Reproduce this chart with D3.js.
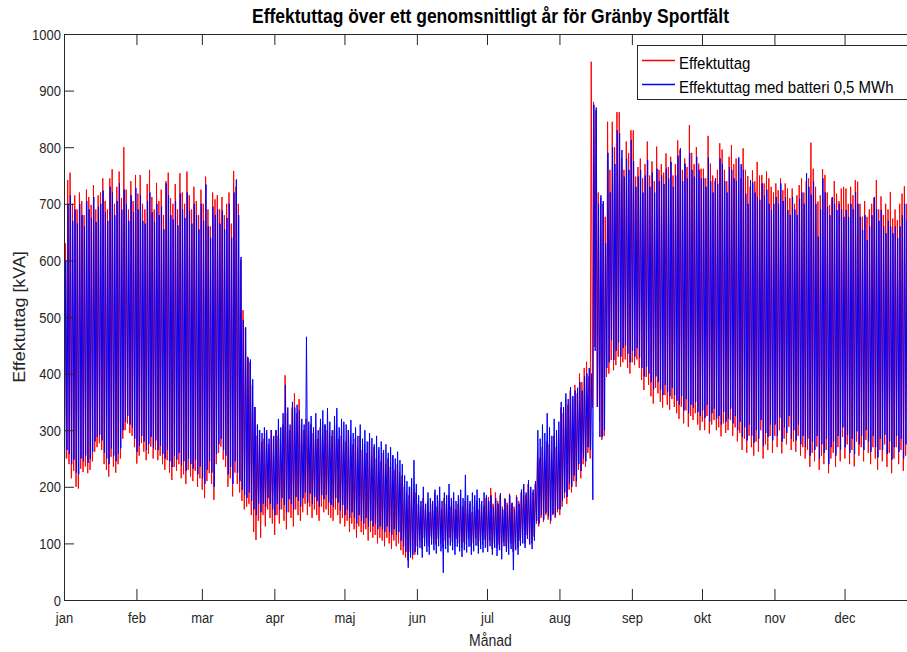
<!DOCTYPE html>
<html lang="sv">
  <head>
    <meta charset="UTF-8" />
    <title>Effektuttag Gränby Sportfält</title>
    <script src="https://d3js.org/d3.v7.min.js"></script>
    <style>
      body {
        margin: 0;
        background: #ffffff;
        font-family: "Liberation Sans", Arial, Helvetica, sans-serif;
      }
      svg {
        display: block;
      }
    </style>
  </head>
  <body>
    <script>
      // month ticks (day of year where each month starts)
      const months = ["jan", "feb", "mar", "apr", "maj", "jun", "jul", "aug", "sep", "okt", "nov", "dec"];
      const monthStart = [0, 31, 59, 90, 120, 151, 181, 212, 243, 273, 304, 334];
      const yTicks = [0, 100, 200, 300, 400, 500, 600, 700, 800, 900, 1000];

      // daily peak / trough in kVA (one value per day)
      const redHigh = [
        630,742,755,700,715,690,720,705,680,725,712,698,733,690,715,720,745,705,690,745,761,700,730,757,710,800,725,690,740,705,751,
        718,751,700,690,735,760,712,690,737,705,725,680,740,755,710,700,735,690,754,720,700,757,715,690,730,705,680,725,
        700,748,690,660,720,708,715,690,712,680,700,720,665,758,730,700,600,512,480,430,420,380,341,290,300,280,285,295,275,300,285,
        300,290,285,310,397,330,300,340,365,330,355,310,300,320,290,310,295,300,285,305,290,310,300,295,290,300,310,285,290,280,
        280,300,290,275,285,270,290,265,275,260,280,255,270,250,265,245,260,240,250,235,255,230,240,225,220,200,190,185,200,175,190,
        170,165,180,160,175,155,170,190,165,175,160,180,170,185,165,175,160,170,180,165,175,160,170,155,165,175,160,170,165,180,
        182,198,170,190,175,185,165,180,172,188,170,165,185,175,190,200,185,205,195,190,205,260,250,270,255,280,275,260,290,270,300,
        340,330,355,345,370,360,380,365,400,385,410,421,395,951,880,865,720,710,700,677,845,760,845,800,862,862,780,760,810,790,830,
        830,748,765,780,745,770,810,750,775,740,801,760,770,755,789,765,783,750,770,812,795,760,780,765,839,790,770,800,771,762,
        762,745,820,771,750,740,760,807,796,760,740,783,804,770,780,778,745,798,760,749,730,759,740,774,750,751,736,757,745,730,720,
        736,724,745,724,736,727,710,727,700,715,733,745,720,740,745,808,762,730,704,715,761,751,720,698,710,740,718,705,727,730,
        727,700,730,715,742,739,700,677,705,677,690,700,710,742,690,713,680,700,690,721,674,690,671,700,718,731,700,690,710,680,700
      ];
      const redLow = [
        230,250,240,215,228,200,197,232,226,236,224,230,245,262,270,277,265,240,230,218,253,235,225,240,250,285,300,312,295,290,270,
        241,255,277,262,247,258,271,250,265,247,255,240,230,247,225,212,235,228,240,215,222,205,230,218,210,228,200,215,
        195,180,210,224,205,177,240,260,271,248,235,200,215,183,225,205,190,175,160,165,170,150,120,106,140,110,150,130,160,145,135,
        115,150,135,160,140,125,155,145,130,160,150,140,155,170,150,165,145,160,150,140,165,155,160,150,145,140,160,150,135,145,
        130,140,120,135,125,110,130,120,115,125,105,120,110,115,100,110,105,95,110,100,90,105,95,100,88,80,75,70,85,72,80,
        95,105,90,110,100,95,112,100,98,108,100,92,105,98,110,102,95,108,100,92,102,98,108,95,100,110,96,104,98,106,
        95,105,90,100,92,98,88,102,95,90,100,85,98,92,105,110,100,115,105,100,112,135,130,145,138,150,142,135,150,145,155,
        150,165,180,170,195,190,210,200,230,215,240,235,260,250,340,447,341,315,283,290,394,400,424,406,415,430,412,420,425,410,400,
        420,415,425,410,389,371,394,380,360,347,375,365,350,340,362,345,336,355,341,330,320,341,312,335,306,325,318,330,310,300,
        315,300,325,294,310,318,300,305,289,312,295,300,318,290,305,280,295,265,285,260,290,270,255,280,262,300,250,275,265,290,260,
        290,270,300,259,285,275,306,265,280,262,290,255,270,250,265,235,260,245,271,230,255,240,265,224,250,260,235,270,245,288,
        250,275,240,265,236,280,255,270,245,283,260,240,270,250,230,265,245,275,235,260,224,250,270,240,265,228,255,245,270,250,260
      ];
      const blueHigh = [
        600,700,715,670,690,665,700,680,660,705,690,675,712,668,695,700,723,685,670,730,720,680,705,736,690,725,700,670,715,685,728,
        690,715,670,665,705,720,685,668,700,680,695,655,736,715,680,672,705,662,718,690,675,720,688,665,700,680,655,700,
        670,734,660,640,695,680,690,665,688,655,675,700,640,720,743,680,606,495,482,428,425,390,341,310,300,295,305,300,285,300,290,
        300,320,305,330,380,340,310,350,340,345,335,320,310,465,315,325,305,330,300,320,335,310,339,315,300,325,339,305,320,315,
        310,300,318,295,305,290,310,285,300,280,295,286,275,290,270,280,265,275,260,270,256,250,262,247,240,220,210,200,215,247,205,
        185,175,200,170,190,180,175,195,185,200,175,190,185,205,180,190,175,185,195,180,221,185,175,190,185,195,180,175,190,185,
        175,185,165,180,170,189,160,178,168,185,172,160,182,170,195,205,190,212,200,195,210,300,285,310,295,330,305,290,320,300,315,
        350,341,365,355,376,360,370,375,385,370,395,400,410,400,875,870,700,715,705,630,790,720,800,770,830,825,795,748,780,760,813,
        775,730,748,760,720,750,777,730,755,720,762,740,750,735,762,745,774,730,750,785,798,740,771,745,790,760,748,783,760,745,
        745,730,782,740,720,745,735,780,770,740,720,765,760,745,740,782,770,760,718,700,742,738,720,712,707,736,715,725,700,689,700,
        712,700,736,705,712,689,680,712,690,680,709,720,700,754,730,716,740,700,642,690,745,720,695,680,712,700,689,700,690,677,
        689,677,700,690,721,700,677,654,680,636,660,680,712,690,670,689,660,648,670,660,648,660,640,660,680,700,670,660,680,650,670
      ];
      const blueLow = [
        250,265,258,240,248,225,222,250,245,255,242,250,262,280,288,292,282,260,250,240,268,255,245,258,268,300,315,325,310,305,285,
        262,272,290,280,265,275,288,268,282,265,272,258,250,265,245,235,255,248,260,238,245,228,250,240,232,248,222,236,
        215,205,230,245,225,200,258,275,285,265,255,222,235,205,245,225,210,195,185,180,190,175,160,150,170,155,170,165,180,170,160,
        150,170,160,180,168,155,178,170,160,182,175,165,180,190,172,188,170,182,175,165,185,178,186,172,168,165,180,172,158,168,
        150,160,145,155,145,135,150,140,135,145,130,140,130,135,125,130,125,120,130,120,115,125,115,120,105,95,85,57,75,80,85,
        80,92,75,95,85,80,98,88,82,95,86,48,90,84,96,88,80,94,86,76,88,84,94,80,86,96,82,90,84,92,
        85,95,80,92,78,88,72,95,85,80,90,53,88,80,96,100,92,108,98,90,105,140,135,150,142,154,148,140,152,148,160,
        160,175,190,182,205,200,220,210,240,228,250,245,270,265,177,440,341,288,288,300,410,420,459,424,440,455,430,445,450,435,420,
        440,430,445,428,410,395,412,400,385,372,395,385,372,362,380,368,360,375,362,352,345,360,335,355,330,345,340,350,332,325,
        335,322,345,315,330,338,320,325,310,332,315,320,338,312,325,300,315,288,305,282,310,290,278,300,285,318,272,295,288,310,282,
        310,290,322,280,305,295,325,285,300,282,310,275,290,270,285,255,280,265,290,250,275,260,285,240,270,280,255,290,265,305,
        270,292,260,285,258,298,275,290,265,300,280,262,290,270,252,285,265,292,258,280,248,270,290,262,285,250,275,265,290,270,280
      ];

      const w = 907;
      const h = 652;
      const margin = { left: 64, top: 34, bottom: 600, right: 917 };
      const axisColor = "#262626";
      const font = '"Liberation Sans", Arial, Helvetica, sans-serif';
      const stretch = 1.12;

      const svg = d3.select("body").append("svg").attr("width", w).attr("height", h);

      const x = d3.scaleLinear().domain([0, 365]).range([margin.left, margin.right]);
      const y = d3.scaleLinear().domain([0, 1000]).range([margin.bottom, margin.top]);

      svg
        .append("clipPath")
        .attr("id", "plot-clip")
        .append("rect")
        .attr("x", margin.left)
        .attr("y", margin.top)
        .attr("width", margin.right - margin.left)
        .attr("height", margin.bottom - margin.top);

      // each day: trough then peak
      const zigzag = (low, high, lowAt, highAt) => {
        const pts = [];
        low.forEach((v, i) => {
          pts.push([i + lowAt, v]);
          pts.push([i + highAt, high[i]]);
        });
        return pts;
      };

      const line = d3
        .line()
        .x((d) => x(d[0]))
        .y((d) => y(d[1]));

      const plot = svg.append("g").attr("clip-path", "url(#plot-clip)");
      plot
        .append("path")
        .datum(zigzag(redLow, redHigh, 0.15, 0.6))
        .attr("d", line)
        .attr("fill", "none")
        .attr("stroke", "#ff0000")
        .attr("stroke-width", 1);
      plot
        .append("path")
        .datum(zigzag(blueLow, blueHigh, 0.3, 0.75))
        .attr("d", line)
        .attr("fill", "none")
        .attr("stroke", "#0000ff")
        .attr("stroke-width", 1);

      // axes (ticks pointing inwards)
      const styleAxis = (g) => {
        g.attr("color", axisColor).attr("font-family", font).attr("font-size", 13);
        g.selectAll(".tick line").attr("stroke-width", 1);
      };

      const xAxis = svg
        .append("g")
        .attr("transform", `translate(0,${margin.bottom})`)
        .call(
          d3
            .axisBottom(x)
            .tickValues(monthStart)
            .tickSize(-11)
            .tickSizeOuter(0)
            .tickFormat((d, i) => months[i])
        )
        .call(styleAxis);
      xAxis
        .selectAll(".tick text")
        .attr("y", 0)
        .attr("dy", null)
        .attr("transform", `translate(0,23) scale(1,${stretch})`);

      svg
        .append("g")
        .attr("transform", `translate(0,${margin.top})`)
        .call(d3.axisTop(x).tickValues(monthStart).tickSize(-11).tickSizeOuter(0).tickFormat(""))
        .call(styleAxis);

      const yAxis = svg
        .append("g")
        .attr("transform", `translate(${margin.left},0)`)
        .call(
          d3
            .axisLeft(y)
            .tickValues(yTicks)
            .tickSize(-10)
            .tickSizeOuter(0)
            .tickFormat(d3.format("d"))
        )
        .call(styleAxis);
      yAxis
        .selectAll(".tick text")
        .attr("x", -3)
        .attr("dy", null)
        .attr("transform", `translate(0,5) scale(1,${stretch})`);

      // title and axis labels
      const cx = (margin.left + margin.right) / 2;
      svg
        .append("text")
        .attr("transform", `translate(${cx},23) scale(1,${stretch})`)
        .attr("text-anchor", "middle")
        .attr("font-family", font)
        .attr("font-size", 17.5)
        .attr("font-weight", "bold")
        .attr("fill", "#000")
        .text("Effektuttag över ett genomsnittligt år för Gränby Sportfält");

      svg
        .append("text")
        .attr("transform", `translate(${cx},646) scale(1,${stretch})`)
        .attr("text-anchor", "middle")
        .attr("font-family", font)
        .attr("font-size", 14)
        .attr("fill", axisColor)
        .text("Månad");

      svg
        .append("text")
        .attr("transform", `translate(25,${(margin.top + margin.bottom) / 2}) rotate(-90) scale(${stretch},1)`)
        .attr("text-anchor", "middle")
        .attr("font-family", font)
        .attr("font-size", 16)
        .attr("fill", axisColor)
        .text("Effektuttag [kVA]");

      // legend
      const legendItems = [
        { label: "Effektuttag", color: "#ff0000" },
        { label: "Effektuttag med batteri 0,5 MWh", color: "#0000ff" }
      ];
      const legend = svg.append("g").attr("transform", "translate(637.5,45.5)");
      legend
        .append("rect")
        .attr("width", 276)
        .attr("height", 54)
        .attr("fill", "#fff")
        .attr("stroke", axisColor)
        .attr("stroke-width", 1);
      legendItems.forEach((item, i) => {
        const row = legend.append("g").attr("transform", `translate(0,${15 + i * 24})`);
        row
          .append("line")
          .attr("x1", 4.5)
          .attr("x2", 37.5)
          .attr("stroke", item.color)
          .attr("stroke-width", 1.5);
        row
          .append("text")
          .attr("transform", `translate(41.5,8) scale(1,${stretch})`)
          .attr("font-family", font)
          .attr("font-size", 15)
          .attr("fill", "#000")
          .text(item.label);
      });
    </script>
  </body>
</html>
